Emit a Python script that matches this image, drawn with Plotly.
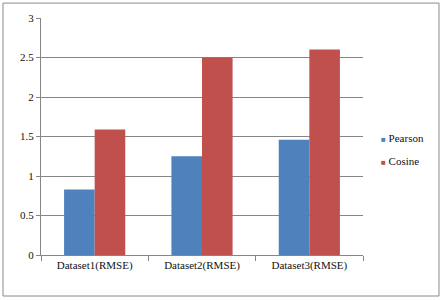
import plotly.graph_objects as go

categories = ["Dataset1(RMSE)", "Dataset2(RMSE)", "Dataset3(RMSE)"]
pearson = [0.83, 1.25, 1.46]
cosine = [1.59, 2.5, 2.6]
y_ticks = [0, 0.5, 1, 1.5, 2, 2.5, 3]
series_names = ["Pearson", "Cosine"]
series_colors = ["#4F81BD", "#C0504D"]

serif = "Liberation Serif, Times New Roman, serif"
font = dict(family=serif, size=11, color="#111111")

fig = go.Figure()
fig.add_trace(go.Bar(name=series_names[0], x=categories, y=pearson,
                     marker=dict(color=series_colors[0], line=dict(width=0))))
fig.add_trace(go.Bar(name=series_names[1], x=categories, y=cosine,
                     marker=dict(color=series_colors[1], line=dict(width=0))))

# legend drawn as text (small squares next to names, like the original)
legend_y = [0.495, 0.398]
for name, color, ly in zip(series_names, series_colors, legend_y):
    fig.add_annotation(xref="paper", yref="paper", x=(379 - 41) / 322, y=ly,
                       xanchor="left", yanchor="middle", showarrow=False,
                       text=f"<span style='color:{color};font-size:8px'>■</span> {name}",
                       font=dict(family=serif, size=11, color="#111111"))

fig.update_layout(
    width=442, height=300,
    margin=dict(l=41, r=79, t=18, b=45, autoexpand=False),
    paper_bgcolor="white", plot_bgcolor="white",
    barmode="group", bargap=0.43, bargroupgap=0,
    font=font,
    showlegend=False,
    xaxis=dict(showline=True, linecolor="#868686", linewidth=1, ticks="outside",
               tickcolor="#868686", ticklen=5, tickson="boundaries", showgrid=False,
               tickfont=dict(family=serif, size=11)),
    yaxis=dict(range=[0, 3], tickvals=y_ticks, ticktext=[str(v) for v in y_ticks],
               showline=True, linecolor="#868686", linewidth=1, ticks="outside",
               tickcolor="#868686", ticklen=4, showgrid=True, gridcolor="#868686",
               gridwidth=1, zeroline=False, tickfont=dict(family=serif, size=11)),
    shapes=[dict(type="rect", xref="paper", yref="paper", x0=-0.118, x1=1.236, y0=-0.173, y1=1.063,
                 line=dict(color="#8a8a8a", width=1), layer="below")],
)

fig.write_html("out.html", config={"displayModeBar": False},
               post_script="document.body.style.margin='0';")
